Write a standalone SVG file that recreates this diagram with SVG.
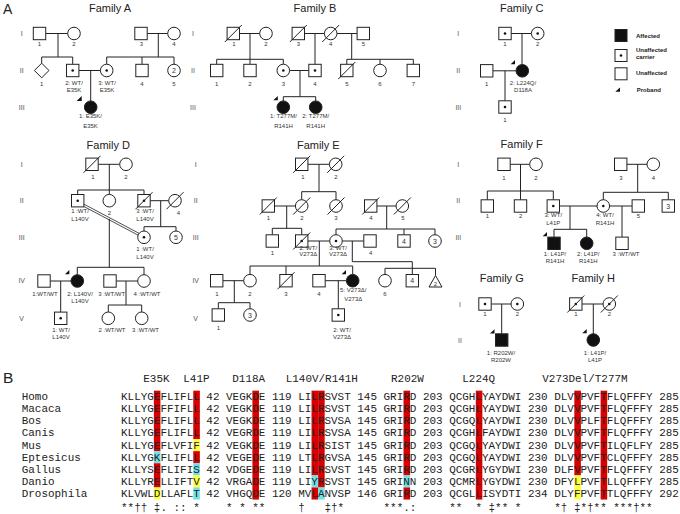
<svg xmlns="http://www.w3.org/2000/svg" width="680" height="514" viewBox="0 0 680 514">
<style>
.l{stroke:#222;stroke-width:1;fill:none}
.s{stroke:#222;stroke-width:1;fill:#fff}
.a{stroke:#222;stroke-width:1;fill:#111}
.d{fill:#111}
.pb{fill:#111}
.t{font-family:"Liberation Sans",Arial,sans-serif;font-size:6px;fill:#333;text-anchor:middle}
.n{font-family:"Liberation Sans",Arial,sans-serif;font-size:7px;fill:#333;text-anchor:middle}
.g{font-family:"Liberation Sans",Arial,sans-serif;font-size:7px;fill:#555;text-anchor:middle}
.ti{font-family:"Liberation Sans",Arial,sans-serif;font-size:11px;fill:#222;text-anchor:middle}
.pl{font-family:"Liberation Sans",Arial,sans-serif;fill:#222}
.lg{font-family:"Liberation Sans",Arial,sans-serif;font-size:6px;font-weight:bold;fill:#222}
.m{font-family:"Liberation Mono","Courier New",monospace;font-size:10.95px;fill:#222}
.r{fill:#d80000}.c{fill:#70e2e6}.y{fill:#ffff3c}
</style>
<rect width="680" height="514" fill="#fff"/>

<!-- panel labels and titles -->
<text class="pl" x="3" y="13.5" font-size="14">A</text>
<text class="pl" x="3" y="383.3" font-size="15.5">B</text>
<text class="ti" x="110" y="11.7">Family A</text>
<text class="ti" x="315" y="11.7">Family B</text>
<text class="ti" x="521.7" y="11.7">Family C</text>
<text class="ti" x="108.3" y="148.8">Family D</text>
<text class="ti" x="318.3" y="148.8">Family E</text>
<text class="ti" x="521.7" y="147.8">Family F</text>
<text class="ti" x="501.7" y="281.5">Family G</text>
<text class="ti" x="593.3" y="281.5">Family H</text>

<!-- generation numerals -->
<g id="gen-numerals">
<text class="g" x="21.7" y="35.9">I</text><text class="g" x="21.7" y="73">II</text><text class="g" x="21.7" y="109.6">III</text>
<text class="g" x="193" y="35.9">I</text><text class="g" x="193" y="73">II</text><text class="g" x="193" y="109.6">III</text>
<text class="g" x="458.3" y="35.9">I</text><text class="g" x="458.3" y="73">II</text><text class="g" x="458.3" y="109.6">III</text>
<text class="g" x="21.7" y="166.8">I</text><text class="g" x="21.7" y="203.2">II</text><text class="g" x="21.7" y="239.8">III</text><text class="g" x="21.7" y="283.3">IV</text><text class="g" x="21.7" y="320.6">V</text>
<text class="g" x="195.7" y="166.8">I</text><text class="g" x="195.7" y="203.2">II</text><text class="g" x="195.7" y="239.8">III</text><text class="g" x="195.7" y="283.3">IV</text><text class="g" x="195.7" y="320.6">V</text>
<text class="g" x="458.3" y="166.8">I</text><text class="g" x="458.3" y="203.2">II</text><text class="g" x="458.3" y="239.8">III</text>
<text class="g" x="460" y="306.5">I</text><text class="g" x="460" y="342.5">II</text>
</g>

<!-- connectors -->
<g id="connectors" class="l">
<!-- A -->
<path d="M45.7 33.5H67.7M58 33.5V57M41.7 57H72.7M41.7 57V63.2M72.7 57V64.3"/>
<path d="M147.2 33.5H167.7M158.3 33.5V57M106.7 57H174M106.7 57V64.2M142 57V64.3M174 57V64.2"/>
<path d="M78.9 70.5H100.4M90.7 70.5V100.9"/>
<!-- B -->
<path d="M239.5 33.5H259.7M250 33.5V59.3M216.7 59.3H283.3M216.7 59.3V64.3M250 59.3V64.3M283.3 59.3V64.2"/>
<path d="M304.5 33.5H324.4M315 33.5V64.3"/>
<path d="M337 33.5H357.1M351.7 33.5V59.3M346.8 59.3H413.3M346.8 59.3V64.3M380 59.3V64.2M413.3 59.3V64.3"/>
<path d="M289.6 70.5H308.8M300 70.5V96.7M283.3 96.7H315.7M283.3 96.7V100.9M315.7 96.7V100.9"/>
<!-- C -->
<path d="M511.2 33.5H531.4M522 33.5V64.5M492.9 70.8H516M505 70.8V100.8"/>
<!-- D -->
<path d="M98.2 164.3H119.7M109.3 164.3V190M77.7 190H144M77.7 190V194.5M109.3 190V194.4M144 190V194.5"/>
<path d="M150.2 200.7H168.7M160.7 200.7V226.7M144 226.7H176M144 226.7V231M176 226.7V231"/>
<path d="M82.8 205.9L139.5 235.9M83.8 204.1L140.5 234.1" stroke-width="0.8"/>
<path d="M109.3 218.8V267.3M77.3 267.3H144M77.3 267.3V274.7M144 267.3V274.7"/>
<path d="M50.2 281H71M60.7 281V312.1"/>
<path d="M116.2 281H137.7M126 281V305M108.3 305H141.7M108.3 305V312M141.7 305V312"/>
<!-- E -->
<path d="M307.9 164.3H329.4M319 164.3V191.7M301.7 191.7H336M301.7 191.7V199.7M336 191.7V199.7"/>
<path d="M274.5 206H295.4M286.7 206V228.3M272.3 228.3H301.7M272.3 228.3V234.8M301.7 228.3V234.8"/>
<path d="M376.9 206H396M386.7 206V229M336 229H435M336 229V234.7M404 229V234.8M435 229V234.7"/>
<path d="M307.9 241H329.7M319.3 241V266M250 266H352.7M250 266V274.4M286 266V274.5M352.7 266V274.4"/>
<path d="M342.3 241H363.8M352.3 241V261.7H412.3V274.5M385 268.3H435.5M385 268.3V274.4M435.5 268.3V275.5"/>
<path d="M222.9 280.7H243.7M234.3 280.7V302.7M218.3 302.7H250M218.3 302.7V308.8M250 302.7V308.7"/>
<path d="M325.2 280.7H346.4M338.3 280.7V308.8"/>
<!-- F -->
<path d="M510.2 164.3H529.7M520.5 164.3V191M487.3 191H553.3M487.3 191V199.8M520.5 191V199.8M553.3 191V199.8"/>
<path d="M626.9 164.3H647M637.7 164.3V192.3M603.3 192.3H668.3M603.3 192.3V199.7M668.3 192.3V199.8"/>
<path d="M559.5 206H597M570 206V229.3M554 229.3H586.7M554 229.3V237.1M586.7 229.3V237"/>
<path d="M609.6 206H632.1M622 206V237.1"/>
<!-- G, H -->
<path d="M491.2 304H511M501.7 304V333.8"/>
<path d="M582 304H603M593.3 304V333.7"/>
</g>

<!-- Family A -->
<g id="A-I-1"><rect class="s" x="33.3" y="27.3" width="12.4" height="12.4"/><text class="t" x="39.5" y="45.5">1</text></g>
<g id="A-I-2"><circle class="s" cx="74" cy="33.5" r="6.3"/><text class="t" x="74" y="45.5">2</text></g>
<g id="A-I-3"><rect class="s" x="134.8" y="27.3" width="12.4" height="12.4"/><text class="t" x="141.5" y="45.5">3</text></g>
<g id="A-I-4"><circle class="s" cx="174" cy="33.5" r="6.3"/><text class="t" x="174" y="45.5">4</text></g>
<g id="A-II-1"><polygon class="s" points="41.7,63.2 49,70.5 41.7,77.8 34.4,70.5"/><text class="t" x="41.7" y="86">1</text></g>
<g id="A-II-2"><rect class="s" x="66.5" y="64.3" width="12.4" height="12.4"/><circle class="d" cx="72.7" cy="70.5" r="1.3"/><text class="t" x="74" y="84.9">2: WT/</text><text class="t" x="74" y="92.2">E35K</text></g>
<g id="A-II-3"><circle class="s" cx="106.7" cy="70.5" r="6.3"/><circle class="d" cx="106.7" cy="70.5" r="1.3"/><text class="t" x="107" y="84.9">3: WT/</text><text class="t" x="107" y="92.2">E35K</text></g>
<g id="A-II-4"><rect class="s" x="135.8" y="64.3" width="12.4" height="12.4"/><text class="t" x="142" y="86">4</text></g>
<g id="A-II-5"><circle class="s" cx="174" cy="70.5" r="6.3"/><text class="n" x="174" y="73">2</text><text class="t" x="174" y="86">5</text></g>
<g id="A-III-1"><circle class="a" cx="90.7" cy="107.2" r="6.3"/><polygon class="pb" points="76.7,101 81.7,101 81.7,96"/><text class="t" x="90.5" y="117.9">1: E35K/</text><text class="t" x="90.5" y="128.2">E35K</text></g>

<!-- Family B -->
<g id="B-I-1"><rect class="s" x="227.1" y="27.3" width="12.4" height="12.4"/><path class="l" d="M224.8 42L241.8 25"/><text class="t" x="234" y="45.5">1</text></g>
<g id="B-I-2"><circle class="s" cx="266" cy="33.5" r="6.3"/><text class="t" x="266" y="45.5">2</text></g>
<g id="B-I-3"><rect class="s" x="292.1" y="27.3" width="12.4" height="12.4"/><path class="l" d="M289.8 42L306.8 25"/><text class="t" x="298.3" y="45.5">3</text></g>
<g id="B-I-4"><circle class="s" cx="330.7" cy="33.5" r="6.3"/><path class="l" d="M322.2 42L339.2 25"/><text class="t" x="330.7" y="45.5">4</text></g>
<g id="B-I-5"><rect class="s" x="357.1" y="27.3" width="12.4" height="12.4"/><text class="t" x="363.3" y="45.5">5</text></g>
<g id="B-II-1"><rect class="s" x="210.5" y="64.3" width="12.4" height="12.4"/><text class="t" x="216.7" y="86">1</text></g>
<g id="B-II-2"><rect class="s" x="243.8" y="64.3" width="12.4" height="12.4"/><text class="t" x="250" y="86">2</text></g>
<g id="B-II-3"><circle class="s" cx="283.3" cy="70.5" r="6.3"/><circle class="d" cx="283.3" cy="70.5" r="1.3"/><text class="t" x="283.3" y="86">3</text></g>
<g id="B-II-4"><rect class="s" x="308.8" y="64.3" width="12.4" height="12.4"/><circle class="d" cx="315" cy="70.5" r="1.3"/><text class="t" x="315" y="86">4</text></g>
<g id="B-II-5"><rect class="s" x="340.6" y="64.3" width="12.4" height="12.4"/><path class="l" d="M338.3 79L355.3 62"/><text class="t" x="346.8" y="86">5</text></g>
<g id="B-II-6"><circle class="s" cx="380" cy="70.5" r="6.3"/><text class="t" x="380" y="86">6</text></g>
<g id="B-II-7"><rect class="s" x="407.1" y="64.3" width="12.4" height="12.4"/><text class="t" x="413.3" y="86">7</text></g>
<g id="B-III-1"><circle class="a" cx="283.3" cy="107.2" r="6.3"/><polygon class="pb" points="273.3,100.3 277.8,100.3 277.8,96"/><text class="t" x="283.5" y="117.9">1: T277M/</text><text class="t" x="283.5" y="128.2">R141H</text></g>
<g id="B-III-2"><circle class="a" cx="315.7" cy="107.2" r="6.3"/><text class="t" x="315.7" y="117.9">2: T277M/</text><text class="t" x="315.7" y="128.2">R141H</text></g>

<!-- Family C -->
<g id="C-I-1"><rect class="s" x="498.8" y="27.3" width="12.4" height="12.4"/><circle class="d" cx="505" cy="33.5" r="1.3"/><text class="t" x="505" y="45.5">1</text></g>
<g id="C-I-2"><circle class="s" cx="537.7" cy="33.5" r="6.3"/><circle class="d" cx="537.7" cy="33.5" r="1.3"/><text class="t" x="537.7" y="45.5">2</text></g>
<g id="C-II-1"><rect class="s" x="480.5" y="64.6" width="12.4" height="12.4"/><text class="t" x="486.7" y="86">1</text></g>
<g id="C-II-2"><circle class="a" cx="522.3" cy="70.8" r="6.3"/><polygon class="pb" points="510.7,64.2 515,64.2 515,60"/><text class="t" x="523" y="84.9">2: L224Q/</text><text class="t" x="523" y="92.2">D118A</text></g>
<g id="C-III-1"><rect class="s" x="498.8" y="100.8" width="12.4" height="12.4"/><circle class="d" cx="505" cy="107" r="1.3"/><text class="t" x="505" y="122">1</text></g>

<!-- Legend -->
<g id="legend">
<rect class="a" x="615" y="29.5" width="12" height="12"/><text class="lg" x="636" y="37.7">Affected</text>
<rect class="s" x="615" y="49.5" width="12" height="12"/><circle class="d" cx="621" cy="55.5" r="1.3"/><text class="lg" x="636" y="51.5">Unaffected</text><text class="lg" x="636" y="58.9">carrier</text>
<rect class="s" x="615" y="67.8" width="12" height="12"/><text class="lg" x="636" y="74.8">Unaffected</text>
<polygon class="pb" points="615.3,91.8 620,91.8 620,87.5"/><text class="lg" x="636.7" y="91.8">Proband</text>
</g>

<!-- Family D -->
<g id="D-I-1"><rect class="s" x="85.8" y="158.1" width="12.4" height="12.4"/><path class="l" d="M83.5 172.8L100.5 155.8"/><text class="t" x="93" y="179">1</text></g>
<g id="D-I-2"><circle class="s" cx="126" cy="164.3" r="6.3"/><text class="t" x="126" y="179">2</text></g>
<g id="D-II-1"><rect class="s" x="71.5" y="194.5" width="12.4" height="12.4"/><circle class="d" cx="77.7" cy="200.7" r="1.3"/><text class="t" x="80" y="212.9">1 :WT/</text><text class="t" x="80" y="221.3">L140V</text></g>
<g id="D-II-2"><circle class="s" cx="109.3" cy="200.7" r="6.3"/><text class="t" x="109.3" y="215">2</text></g>
<g id="D-II-3"><rect class="s" x="137.8" y="194.5" width="12.4" height="12.4"/><circle class="d" cx="144" cy="200.7" r="1.3"/><path class="l" d="M135.5 209.2L152.5 192.2"/><text class="t" x="145" y="212.9">3 :WT/</text><text class="t" x="145" y="221.3">L140V</text></g>
<g id="D-II-4"><circle class="s" cx="175" cy="200.7" r="6.3"/><path class="l" d="M166.5 209.2L183.5 192.2"/><text class="t" x="178.3" y="215">4</text></g>
<g id="D-III-1"><circle class="s" cx="144" cy="237.3" r="6.3"/><circle class="d" cx="144" cy="237.3" r="1.3"/><text class="t" x="145" y="250.5">1 :WT/</text><text class="t" x="145" y="258.9">L140V</text></g>
<g id="D-III-5"><circle class="s" cx="176" cy="237.3" r="6.3"/><text class="n" x="176" y="239.8">5</text></g>
<g id="D-IV-1"><rect class="s" x="37.8" y="274.8" width="12.4" height="12.4"/><text class="t" x="45" y="295.5">1:WT/WT</text></g>
<g id="D-IV-2"><circle class="a" cx="77.3" cy="281" r="6.3"/><polygon class="pb" points="65,274.3 69.3,274.3 69.3,270"/><text class="t" x="80" y="295.5">2: L140V/</text><text class="t" x="80" y="302.9">L140V</text></g>
<g id="D-IV-3"><rect class="s" x="103.8" y="274.8" width="12.4" height="12.4"/><text class="t" x="111.7" y="295.5">3 :WT/WT</text></g>
<g id="D-IV-4"><circle class="s" cx="144" cy="281" r="6.3"/><text class="t" x="147" y="295.5">4 :WT/WT</text></g>
<g id="D-V-1"><rect class="s" x="54.5" y="312.1" width="12.4" height="12.4"/><circle class="d" cx="60.7" cy="318.3" r="1.3"/><text class="t" x="61" y="331.5">1: WT/</text><text class="t" x="61" y="338.9">L140V</text></g>
<g id="D-V-2"><circle class="s" cx="108.3" cy="318.3" r="6.3"/><text class="t" x="112" y="331.5">2 :WT/WT</text></g>
<g id="D-V-3"><circle class="s" cx="141.7" cy="318.3" r="6.3"/><text class="t" x="145.5" y="331.5">3 :WT/WT</text></g>

<!-- Family E -->
<g id="E-I-1"><rect class="s" x="295.5" y="158.1" width="12.4" height="12.4"/><path class="l" d="M293.2 172.8L310.2 155.8"/><text class="t" x="303" y="179">1</text></g>
<g id="E-I-2"><circle class="s" cx="335.7" cy="164.3" r="6.3"/><path class="l" d="M327.2 172.8L344.2 155.8"/><text class="t" x="336" y="179">2</text></g>
<g id="E-II-1"><rect class="s" x="262.1" y="199.8" width="12.4" height="12.4"/><path class="l" d="M259.8 214.5L276.8 197.5"/><text class="t" x="268.3" y="219.5">1</text></g>
<g id="E-II-2"><circle class="s" cx="301.7" cy="206" r="6.3"/><path class="l" d="M293.2 214.5L310.2 197.5"/><text class="t" x="302" y="219.5">2</text></g>
<g id="E-II-3"><circle class="s" cx="336" cy="206" r="6.3"/><path class="l" d="M327.5 214.5L344.5 197.5"/><text class="t" x="336" y="219.5">3</text></g>
<g id="E-II-4"><rect class="s" x="364.5" y="199.8" width="12.4" height="12.4"/><path class="l" d="M362.2 214.5L379.2 197.5"/><text class="t" x="371" y="219.5">4</text></g>
<g id="E-II-5"><circle class="s" cx="402.3" cy="206" r="6.3"/><path class="l" d="M393.8 214.5L410.8 197.5"/><text class="t" x="403" y="219.5">5</text></g>
<g id="E-III-1"><rect class="s" x="266.1" y="234.8" width="12.4" height="12.4"/><text class="t" x="272.3" y="254.9">1</text></g>
<g id="E-III-2"><rect class="s" x="295.5" y="234.8" width="12.4" height="12.4"/><circle class="d" cx="301.7" cy="241" r="1.3"/><path class="l" d="M293.2 249.5L310.2 232.5"/><text class="t" x="308.3" y="249.5">2: WT/</text><text class="t" x="308.3" y="256.2">V273Δ</text></g>
<g id="E-III-3"><circle class="s" cx="336" cy="241" r="6.3"/><circle class="d" cx="336" cy="241" r="1.3"/><text class="t" x="338" y="249.5">3: WT/</text><text class="t" x="338" y="256.2">V273Δ</text></g>
<g id="E-III-4"><rect class="s" x="363.8" y="234.8" width="12.4" height="12.4"/><text class="t" x="370.7" y="254.9">4</text></g>
<g id="E-III-x4"><rect class="s" x="397.8" y="234.8" width="12.4" height="12.4"/><text class="n" x="404" y="243.5">4</text></g>
<g id="E-III-x3"><circle class="s" cx="435" cy="241" r="6.3"/><text class="n" x="435" y="243.5">3</text></g>
<g id="E-IV-1"><rect class="s" x="210.5" y="274.5" width="12.4" height="12.4"/><text class="t" x="217" y="295.5">1</text></g>
<g id="E-IV-2"><circle class="s" cx="250" cy="280.7" r="6.3"/><text class="t" x="250" y="295.5">2</text></g>
<g id="E-IV-3"><rect class="s" x="279.8" y="274.5" width="12.4" height="12.4"/><path class="l" d="M277.5 289.2L294.5 272.2"/><text class="t" x="286" y="295.5">3</text></g>
<g id="E-IV-4"><rect class="s" x="312.8" y="274.5" width="12.4" height="12.4"/><text class="t" x="319" y="295.5">4</text></g>
<g id="E-IV-5"><circle class="a" cx="352.7" cy="280.7" r="6.3"/><polygon class="pb" points="341.7,274.3 346,274.3 346,270"/><text class="t" x="353.3" y="291.8">5: V273Δ/</text><text class="t" x="353.3" y="300.5">V273Δ</text></g>
<g id="E-IV-6"><circle class="s" cx="385" cy="280.7" r="6.3"/><text class="t" x="385" y="295.5">6</text></g>
<g id="E-IV-x4"><rect class="s" x="406.1" y="274.5" width="12.4" height="12.4"/><text class="n" x="412.3" y="283.2">4</text></g>
<g id="E-IV-x2"><polygon class="s" points="435.5,275.5 429,287 442,287"/><text class="t" x="435.5" y="285.6">2</text></g>
<g id="E-V-1"><rect class="s" x="212.1" y="308.8" width="12.4" height="12.4"/><text class="t" x="218.3" y="329.5">1</text></g>
<g id="E-V-x3"><circle class="s" cx="250" cy="315" r="6.3"/><text class="n" x="250" y="317.5">3</text></g>
<g id="E-V-2"><rect class="s" x="332.1" y="308.8" width="12.4" height="12.4"/><circle class="d" cx="338.3" cy="315" r="1.3"/><text class="t" x="342" y="331.5">2: WT/</text><text class="t" x="342" y="338.9">V273Δ</text></g>

<!-- Family F -->
<g id="F-I-1"><rect class="s" x="497.8" y="158.1" width="12.4" height="12.4"/><text class="t" x="504" y="179.5">1</text></g>
<g id="F-I-2"><circle class="s" cx="536" cy="164.3" r="6.3"/><text class="t" x="536" y="179.5">2</text></g>
<g id="F-I-3"><rect class="s" x="614.5" y="158.1" width="12.4" height="12.4"/><text class="t" x="621" y="179.5">3</text></g>
<g id="F-I-4"><circle class="s" cx="653.3" cy="164.3" r="6.3"/><text class="t" x="653.3" y="179.5">4</text></g>
<g id="F-II-1"><rect class="s" x="481.1" y="199.8" width="12.4" height="12.4"/><text class="t" x="487.3" y="218">1</text></g>
<g id="F-II-2"><rect class="s" x="514.3" y="199.8" width="12.4" height="12.4"/><text class="t" x="520.7" y="218">2</text></g>
<g id="F-II-3"><rect class="s" x="547.1" y="199.8" width="12.4" height="12.4"/><circle class="d" cx="553.3" cy="206" r="1.3"/><text class="t" x="553.3" y="217.2">3: WT/</text><text class="t" x="553.3" y="224.9">L41P</text></g>
<g id="F-II-4"><circle class="s" cx="603.3" cy="206" r="6.3"/><circle class="d" cx="603.3" cy="206" r="1.3"/><text class="t" x="605" y="217.2">4: WT/</text><text class="t" x="605" y="224.9">R141H</text></g>
<g id="F-II-5"><rect class="s" x="632.1" y="199.8" width="12.4" height="12.4"/><text class="t" x="638.3" y="218">5</text></g>
<g id="F-II-x3"><rect class="s" x="662.1" y="199.8" width="12.4" height="12.4"/><text class="n" x="668.3" y="208.5">3</text></g>
<g id="F-III-1"><rect class="a" x="547.8" y="237.1" width="12.4" height="12.4"/><polygon class="pb" points="542.7,236.2 547,236.2 547,232"/><text class="t" x="555" y="255.5">1: L41P/</text><text class="t" x="555" y="263.2">R141H</text></g>
<g id="F-III-2"><circle class="a" cx="586.7" cy="243.3" r="6.3"/><text class="t" x="588.3" y="255.5">2: L41P/</text><text class="t" x="588.3" y="263.2">R141H</text></g>
<g id="F-III-3"><rect class="s" x="615.8" y="237.1" width="12.4" height="12.4"/><text class="t" x="626" y="255.5">3 :WT/WT</text></g>

<!-- Family G -->
<g id="G-I-1"><rect class="s" x="478.8" y="297.8" width="12.4" height="12.4"/><circle class="d" cx="485" cy="304" r="1.3"/><text class="t" x="485" y="315.5">1</text></g>
<g id="G-I-2"><circle class="s" cx="517.3" cy="304" r="6.3"/><circle class="d" cx="517.3" cy="304" r="1.3"/><text class="t" x="517.3" y="315.5">2</text></g>
<g id="G-II-1"><rect class="a" x="495.5" y="333.8" width="12.4" height="12.4"/><polygon class="pb" points="490,333.5 494.5,333.5 494.5,329.2"/><text class="t" x="501" y="354.5">1: R202W/</text><text class="t" x="501" y="361.5">R202W</text></g>

<!-- Family H -->
<g id="H-I-1"><rect class="s" x="569.6" y="297.8" width="12.4" height="12.4"/><circle class="d" cx="575.8" cy="304" r="1.3"/><path class="l" d="M567.3 312.5L584.3 295.5"/><text class="t" x="576" y="315.5">1</text></g>
<g id="H-I-2"><circle class="s" cx="609.3" cy="304" r="6.3"/><circle class="d" cx="609.3" cy="304" r="1.3"/><path class="l" d="M600.8 312.5L617.8 295.5"/><text class="t" x="609.3" y="315.5">2</text></g>
<g id="H-II-1"><circle class="a" cx="593.3" cy="340" r="6.3"/><polygon class="pb" points="582.3,333.3 586.7,333.3 586.7,329"/><text class="t" x="595" y="354.5">1: L41P/</text><text class="t" x="595" y="361.5">L41P</text></g>

<!-- Panel B: alignment -->
<g id="alignment-highlights">
<rect class="r" x="153.85" y="390.65" width="6.57" height="60.5"/>
<rect class="c" x="153.85" y="451.15" width="6.57" height="12.1"/>
<rect class="r" x="153.85" y="463.25" width="6.57" height="24.2"/>
<rect class="y" x="153.85" y="487.45" width="6.57" height="12.1"/>
<rect class="r" x="193.27" y="390.65" width="6.57" height="48.4"/>
<rect class="y" x="193.27" y="439.05" width="6.57" height="12.1"/>
<rect class="r" x="193.27" y="451.15" width="6.57" height="12.1"/>
<rect class="c" x="193.27" y="463.25" width="6.57" height="12.1"/>
<rect class="y" x="193.27" y="475.35" width="6.57" height="12.1"/>
<rect class="c" x="193.27" y="487.45" width="6.57" height="12.1"/>
<rect class="r" x="252.4" y="390.65" width="6.57" height="108.9"/>
<rect class="r" x="311.53" y="390.65" width="6.57" height="84.7"/>
<rect class="c" x="311.53" y="475.35" width="6.57" height="12.1"/>
<rect class="r" x="311.53" y="487.45" width="6.57" height="12.1"/>
<rect class="r" x="318.1" y="390.65" width="6.57" height="96.8"/>
<rect class="c" x="318.1" y="487.45" width="6.57" height="12.1"/>
<rect class="r" x="403.51" y="390.65" width="6.57" height="84.7"/>
<rect class="c" x="403.51" y="475.35" width="6.57" height="12.1"/>
<rect class="r" x="403.51" y="487.45" width="6.57" height="12.1"/>
<rect class="r" x="475.78" y="390.65" width="6.57" height="108.9"/>
<rect class="r" x="574.33" y="390.65" width="6.57" height="84.7"/>
<rect class="y" x="574.33" y="475.35" width="6.57" height="24.2"/>
<rect class="r" x="600.61" y="390.65" width="6.57" height="108.9"/>
</g>
<g id="alignment-text" class="m">
<text x="143.3" y="381.6">E35K</text>
<text x="183.3" y="381.6">L41P</text>
<text x="232.3" y="381.6">D118A</text>
<text x="285.7" y="381.6">L140V/R141H</text>
<text x="391" y="381.6">R202W</text>
<text x="462.3" y="381.6">L224Q</text>
<text x="542.3" y="381.6">V273Del/T277M</text>
<text x="21.7" y="400.1">Homo</text>
<text x="21.7" y="412.2">Macaca</text>
<text x="21.7" y="424.3">Bos</text>
<text x="21.7" y="436.4">Canis</text>
<text x="21.7" y="448.5">Mus</text>
<text x="21.7" y="460.6">Eptesicus</text>
<text x="21.7" y="472.7">Gallus</text>
<text x="21.7" y="484.8">Danio</text>
<text x="21.7" y="496.9">Drosophila</text>
<text x="121" y="400.1">KLLYGEFLIFLL 42 VEGKDE 119 LILRSVST 145 GRIRD 203 QCGHLYAYDWI 230 DLVVPVFTFLQFFFY 285</text>
<text x="121" y="412.2">KLLYGEFFIFLL 42 VEGKDE 119 LILRSVST 145 GRIRD 203 QCGHLYAYDWI 230 DLVVPVFTFLQFFFY 285</text>
<text x="121" y="424.3">KLLYGEFLIFLL 42 VEGKDE 119 LILRSVSA 145 GRIRD 203 QCGQLYAYDWI 230 DLVVPLFTFLQFFFY 285</text>
<text x="121" y="436.4">KLLYGEFLIFLL 42 VEGRDE 119 LILRSVSA 145 GRIRD 203 QCGHLFAYDWI 230 DLVVPVFTFLQFFFY 285</text>
<text x="121" y="448.5">KLLYGEFLVFIF 42 VEGKDE 119 LILRSIST 145 GRIRD 203 QCGQLYAYDWI 230 DLVVPVFTILQFLFY 285</text>
<text x="121" y="460.6">KLLYGKFLIFLL 42 VEGEDE 119 LTLRGVSA 145 GRIRD 203 QCGQLYAYDWI 230 DLVVPVFTCLQFFFY 285</text>
<text x="121" y="472.7">KLLYSEFLIFIS 42 VDGEDE 119 LILRSVST 145 GRIRD 203 QCGRLYGYDWI 230 DLFVPVFTFLQFFFY 285</text>
<text x="121" y="484.8">KLLYRELLIFTV 42 VRGADE 119 LIYRSVST 145 GRINN 203 QCMRLYGYDWI 230 DFYLPVFTLLQFFFY 285</text>
<text x="121" y="496.9">KLVWLDLLAFLT 42 VHGQDE 120 MVLANVSP 146 GRIRD 203 QCGLLISYDTI 234 DLYFPVFTTLQFFFY 292</text>
<text x="121" y="510.5" xml:space="preserve">**†† ‡. :: *    * * **     †   ‡†*      ***.:     **  * ‡** *     *† ‡*†** ***†**</text>
</g>
</svg>
